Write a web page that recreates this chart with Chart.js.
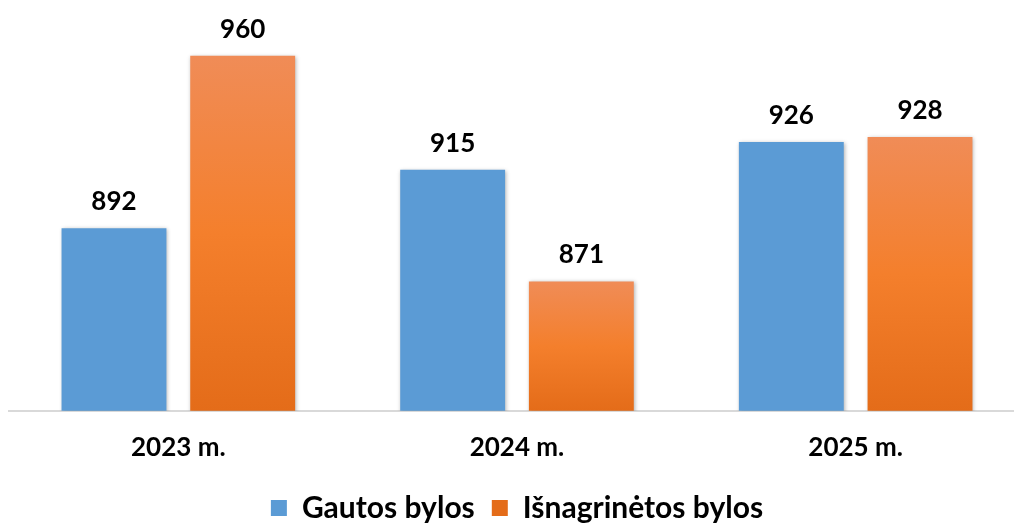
<!DOCTYPE html>
<html>
<head>
<meta charset="utf-8">
<script src="https://cdn.jsdelivr.net/npm/chart.js@4.4.1/dist/chart.umd.min.js"></script>
<style>
  html, body { margin: 0; padding: 0; background: #fff; overflow: hidden; }
  #wrap { width: 1025px; height: 523px; }
</style>
</head>
<body>
<div id="wrap"><canvas id="myChart"></canvas></div>
<script>
var categories = ['2023 m.', '2024 m.', '2025 m.'];
var seriesNames = ['Gautos bylos', 'Išnagrinėtos bylos'];
var gautos = [892, 915, 926];
var isnagrinetos = [960, 871, 928];

var fontFamily = 'Lato, "Open Sans", sans-serif';

// orange bars get a vertical gradient per bar (light top, darker bottom)
function orangeFill(context) {
    var chart = context.chart;
    if (context.type !== 'data' || !chart.chartArea || !chart.scales.y) {
        return '#F07D2E';
    }
    var y = chart.scales.y;
    var top = y.getPixelForValue(context.raw);
    var bottom = y.bottom;
    var g = chart.ctx.createLinearGradient(0, top, 0, bottom);
    g.addColorStop(0, '#F08C57');
    g.addColorStop(0.5, '#F47F2C');
    g.addColorStop(1, '#E46C19');
    return g;
}

var barShadow = {
    id: 'barShadow',
    beforeDatasetsDraw: function(chart) {
        var ctx = chart.ctx;
        ctx.save();
        ctx.shadowColor = 'rgba(0,0,0,0.3)';
        ctx.shadowBlur = 4;
        ctx.shadowOffsetX = 1;
        ctx.shadowOffsetY = 1;
    },
    afterDatasetsDraw: function(chart) {
        chart.ctx.restore();
    }
};

var valueLabels = {
    id: 'valueLabels',
    afterDraw: function(chart) {
        var ctx = chart.ctx;
        ctx.save();
        ctx.fillStyle = '#000';
        ctx.font = 'bold 26px ' + fontFamily;
        ctx.textAlign = 'center';
        ctx.textBaseline = 'alphabetic';
        chart.data.datasets.forEach(function(ds, i) {
            var meta = chart.getDatasetMeta(i);
            meta.data.forEach(function(bar, j) {
                ctx.fillText(ds.data[j], bar.x, bar.y - 18);
            });
        });
        ctx.restore();
    }
};

var ctx = document.getElementById('myChart').getContext('2d');
var myChart = new Chart(ctx, {
    type: 'bar',
    data: {
        labels: categories,
        datasets: [{
            label: seriesNames[0],
            data: gautos,
            backgroundColor: '#5B9BD5',
            borderWidth: 0
        }, {
            label: seriesNames[1],
            data: isnagrinetos,
            backgroundColor: orangeFill,
            borderWidth: 0
        }]
    },
    options: {
        responsive: true,
        maintainAspectRatio: false,
        animation: false,
        categoryPercentage: 0.76,
        barPercentage: 0.815,
        layout: {
            padding: { top: 5, left: 9, right: 0, bottom: -10 }
        },
        scales: {
            x: {
                grid: { display: false },
                border: { color: '#D9D9D9', width: 2 },
                ticks: {
                    color: '#000',
                    padding: 13,
                    font: { family: fontFamily, size: 26, weight: 'bold' }
                }
            },
            y: {
                display: false,
                min: 820,
                max: 980
            }
        },
        plugins: {
            legend: {
                position: 'bottom',
                labels: {
                    color: '#000',
                    boxWidth: 16,
                    boxHeight: 16,
                    padding: 17,
                    font: { family: fontFamily, size: 30, weight: 'bold' }
                }
            },
            tooltip: { enabled: false }
        }
    },
    plugins: [barShadow, valueLabels]
});
</script>
</body>
</html>
